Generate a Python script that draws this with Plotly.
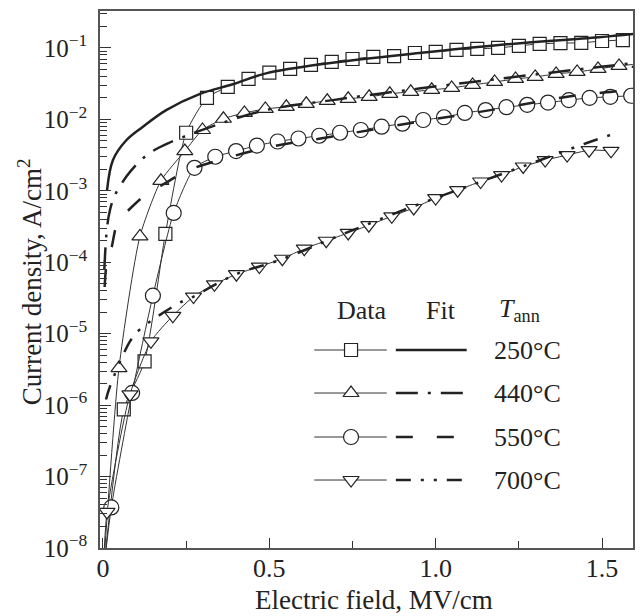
import plotly.graph_objects as go

# ---------------- data ----------------
# Electric field, MV/cm ; current density, A/cm^2
sq_E = [0.0, 0.0625, 0.125, 0.1875, 0.25, 0.3125, 0.375, 0.4375, 0.5, 0.5625,
        0.625, 0.6875, 0.75, 0.8125, 0.875, 0.9375, 1.0, 1.0625, 1.125, 1.1875,
        1.25, 1.3125, 1.375, 1.4375, 1.5, 1.5625]
sq_J = [4e-9, 8.7e-7, 4.1e-6, 2.5e-4, 6.5e-3, 2.0e-2, 2.85e-2, 3.7e-2, 4.5e-2, 5.1e-2,
        5.8e-2, 6.4e-2, 7.0e-2, 7.5e-2, 7.7e-2, 8.5e-2, 8.8e-2, 9.4e-2, 9.7e-2, 0.100,
        0.107, 0.114, 0.117, 0.118, 0.125, 0.129]

tri_E = [0.0, 0.048, 0.111, 0.174, 0.246, 0.299, 0.362, 0.425, 0.488, 0.551,
         0.611, 0.674, 0.737, 0.80, 0.862, 0.925, 0.988, 1.048, 1.111, 1.177,
         1.240, 1.299, 1.362, 1.425, 1.488, 1.551, 1.614]
tri_J = [4e-9, 3.3e-6, 2.3e-4, 1.38e-3, 3.6e-3, 7.1e-3, 1.02e-2, 1.23e-2, 1.40e-2, 1.50e-2,
         1.65e-2, 1.82e-2, 1.94e-2, 2.07e-2, 2.28e-2, 2.43e-2, 2.59e-2, 2.76e-2, 3.04e-2, 3.34e-2,
         3.68e-2, 3.93e-2, 4.33e-2, 4.61e-2, 5.08e-2, 5.60e-2, 6.0e-2]

cir_E = [0.0, 0.025, 0.0875, 0.15, 0.2125, 0.275, 0.3375, 0.4, 0.4625, 0.525,
         0.5875, 0.65, 0.7125, 0.775, 0.8375, 0.9, 0.9625, 1.025, 1.0875, 1.15,
         1.2125, 1.275, 1.3375, 1.4, 1.4625, 1.525, 1.5875]
cir_J = [4e-9, 3.7e-8, 1.48e-6, 3.4e-5, 4.9e-4, 2.1e-3, 3.0e-3, 3.6e-3, 4.3e-3, 4.9e-3,
         5.4e-3, 5.9e-3, 6.5e-3, 7.1e-3, 7.9e-3, 8.7e-3, 9.8e-3, 1.07e-2, 1.23e-2, 1.35e-2,
         1.48e-2, 1.60e-2, 1.72e-2, 1.86e-2, 2.0e-2, 2.07e-2, 2.14e-2]

tdn_E = [0.0, 0.012, 0.081, 0.144, 0.21, 0.272, 0.335, 0.401, 0.470, 0.539,
         0.605, 0.671, 0.737, 0.799, 0.868, 0.934, 1.0, 1.066, 1.135, 1.198,
         1.263, 1.329, 1.395, 1.461, 1.527]
tdn_J = [4e-9, 3.2e-8, 1.41e-6, 7.8e-6, 1.78e-5, 3.3e-5, 4.9e-5, 6.8e-5, 8.7e-5, 1.12e-4,
         1.55e-4, 2.0e-4, 2.57e-4, 3.3e-4, 4.4e-4, 5.75e-4, 7.9e-4, 1.02e-3, 1.35e-3, 1.66e-3,
         2.19e-3, 2.69e-3, 3.16e-3, 3.7e-3, 3.63e-3]

fit250_E = [0.012, 0.03, 0.07, 0.12, 0.19, 0.29, 0.39, 0.49, 0.69, 0.95, 1.19, 1.49, 1.60]
fit250_J = [1.0e-3, 2.7e-3, 5.1e-3, 7.9e-3, 1.35e-2, 2.26e-2, 3.1e-2, 4.4e-2, 6.2e-2, 8.5e-2,
            0.110, 0.141, 0.158]

fit440_E = [0.004, 0.012, 0.021, 0.036, 0.072, 0.105, 0.141, 0.195, 0.29, 0.49, 0.69, 0.95,
            1.19, 1.49, 1.60]
fit440_J = [7.9e-5, 3.0e-4, 5.4e-4, 8.7e-4, 1.62e-3, 2.45e-3, 3.4e-3, 4.6e-3, 6.9e-3, 1.35e-2,
            1.86e-2, 2.7e-2, 3.7e-2, 5.4e-2, 6.2e-2]

fit550_E = [0.005, 0.012, 0.024, 0.045, 0.072, 0.132, 0.177, 0.24, 0.275, 0.49, 0.69, 0.95,
            1.19, 1.40, 1.55, 1.60]
fit550_J = [4.5e-5, 1.02e-4, 1.48e-4, 3.7e-4, 5.1e-4, 9.1e-4, 1.20e-3, 1.78e-3, 2.1e-3, 4.0e-3,
            5.75e-3, 9.3e-3, 1.41e-2, 2.09e-2, 2.5e-2, 2.7e-2]

fit700_E = [0.009, 0.021, 0.081, 0.111, 0.23, 0.266, 0.40, 0.53, 0.73, 0.93, 1.10, 1.29, 1.45, 1.55]
fit700_J = [1.2e-6, 1.82e-6, 7.8e-6, 1.15e-5, 2.7e-5, 3.2e-5, 6.8e-5, 1.07e-4, 2.57e-4, 6.0e-4,
            1.17e-3, 2.45e-3, 4.6e-3, 6.6e-3]

temps = ["250°C", "440°C", "550°C", "700°C"]
x_tickvals = [0, 0.5, 1.0, 1.5]
x_ticktext = ["0", "0.5", "1.0", "1.5"]
y_exponents = [-8, -7, -6, -5, -4, -3, -2, -1]

# ---------------- styles ----------------
FONT = "Liberation Serif"
INK = "#222222"
symbols = ["square", "triangle-up", "circle", "triangle-down"]
msizes = [13, 14, 15, 14]
dashes = ["solid", "22px,10px,3px,10px", "17px,24px", "15px,10px,3px,10px,3px,10px"]

fig = go.Figure()

data_sets = [(sq_E, sq_J), (tri_E, tri_J), (cir_E, cir_J), (tdn_E, tdn_J)]
fit_sets = [(fit250_E, fit250_J), (fit440_E, fit440_J), (fit550_E, fit550_J), (fit700_E, fit700_J)]

for i, (ex, jy) in enumerate(data_sets):
    fig.add_trace(go.Scatter(
        x=ex, y=jy, mode="lines+markers",
        line=dict(color="#333333", width=1, shape="spline", smoothing=0.6),
        marker=dict(symbol=symbols[i], size=msizes[i], color="white",
                    line=dict(color=INK, width=1.2)),
        showlegend=False, hoverinfo="skip"))

for i, (ex, jy) in enumerate(fit_sets):
    fig.add_trace(go.Scatter(
        x=ex, y=jy, mode="lines",
        line=dict(color=INK, width=2.5, dash=dashes[i], shape="spline", smoothing=1.0),
        showlegend=False, hoverinfo="skip"))

# ---------------- hand-made legend on an overlay axis (0..1) ----------------
row_y = [0.3687, 0.2886, 0.2067, 0.1266]
data_x0, data_x1, mark_x = 0.402, 0.538, 0.471
fit_x0, fit_x1 = 0.555, 0.688
for i in range(4):
    fig.add_trace(go.Scatter(
        x=[data_x0, mark_x, data_x1], y=[row_y[i]] * 3, mode="lines",
        line=dict(color="#333333", width=1), xaxis="x2", yaxis="y2",
        showlegend=False, hoverinfo="skip"))
    fig.add_trace(go.Scatter(
        x=[mark_x], y=[row_y[i]], mode="markers",
        marker=dict(symbol=symbols[i], size=msizes[i], color="white",
                    line=dict(color=INK, width=1.2)),
        xaxis="x2", yaxis="y2", showlegend=False, hoverinfo="skip"))
    fig.add_trace(go.Scatter(
        x=[fit_x0, fit_x1], y=[row_y[i]] * 2, mode="lines",
        line=dict(color=INK, width=2.5, dash=dashes[i]), xaxis="x2", yaxis="y2",
        showlegend=False, hoverinfo="skip"))

annotations = []
for i, t in enumerate(temps):
    annotations.append(dict(x=0.735, y=row_y[i], xref="paper", yref="paper", text=t,
                            showarrow=False, xanchor="left", yanchor="middle",
                            font=dict(family=FONT, size=26, color=INK)))
for txt, xc in [("Data", 0.4916), ("Fit", 0.639), ("<i>T</i><sub>ann</sub>", 0.787)]:
    annotations.append(dict(x=xc, y=0.4432, xref="paper", yref="paper", text=txt,
                            showarrow=False, xanchor="center", yanchor="middle",
                            font=dict(family=FONT, size=26, color=INK)))
# axis titles
annotations.append(dict(x=0.514, y=-0.097, xref="paper", yref="paper",
                        text="Electric field, MV/cm", showarrow=False,
                        xanchor="center", yanchor="middle",
                        font=dict(family=FONT, size=27, color=INK)))
annotations.append(dict(x=-0.131, y=0.495, xref="paper", yref="paper",
                        text="Current density, A/cm<sup>2</sup>", showarrow=False,
                        textangle=-90, xanchor="center", yanchor="middle",
                        font=dict(family=FONT, size=27, color=INK)))

minor_y = [k * 10.0 ** n for n in range(-8, 0) for k in range(2, 10)]
y_tickvals = [10.0 ** n for n in y_exponents]
y_ticktext = ["10<sup>\u2212%d</sup>" % (-n) for n in y_exponents]

fig.update_layout(
    width=641, height=616,
    margin=dict(l=100, r=6, t=11, b=68),
    paper_bgcolor="white", plot_bgcolor="white",
    font=dict(family=FONT, size=25, color=INK),
    annotations=annotations,
    xaxis=dict(range=[-0.009, 1.593], tickmode="array", tickvals=x_tickvals, ticktext=x_ticktext,
               ticks="inside", ticklen=10, tickwidth=1, tickcolor="#333333",
               showline=True, linecolor="#555555", linewidth=1.5, mirror=True,
               showgrid=False, zeroline=False,
               tickfont=dict(family=FONT, size=26, color=INK), ticklabelstandoff=-4,
               minor=dict(tickmode="array", tickvals=[0.25, 0.75, 1.25], ticks="inside",
                          ticklen=7, tickwidth=1, tickcolor="#333333", showgrid=False)),
    yaxis=dict(type="log", range=[-8, -0.483], tickmode="array",
               tickvals=y_tickvals, ticktext=y_ticktext,
               ticks="inside", ticklen=11, tickwidth=1, tickcolor="#333333",
               showline=True, linecolor="#555555", linewidth=1.5, mirror=True,
               showgrid=False, zeroline=False,
               tickfont=dict(family=FONT, size=25, color=INK), ticklabelstandoff=6,
               minor=dict(tickmode="array", tickvals=minor_y, ticks="inside",
                          ticklen=7, tickwidth=1, tickcolor="#333333", showgrid=False)),
    xaxis2=dict(overlaying="x", range=[0, 1], visible=False, anchor="y2"),
    yaxis2=dict(overlaying="y", range=[0, 1], visible=False, anchor="x2"),
)

fig.write_html("out.html")
